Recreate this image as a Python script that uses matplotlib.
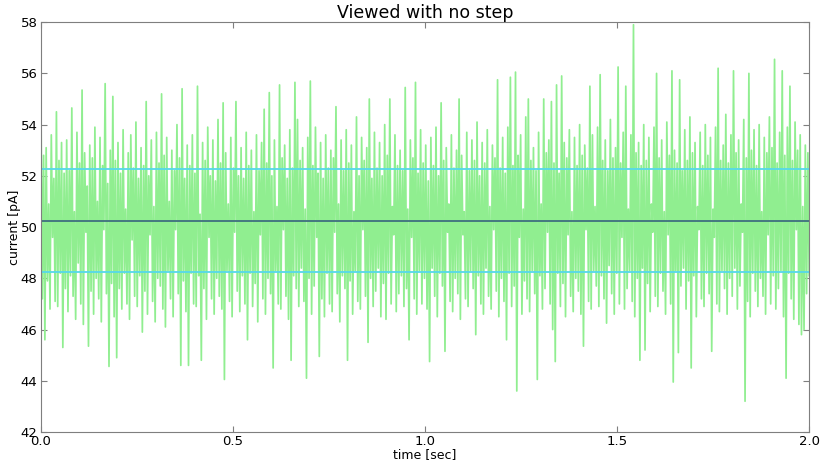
import numpy as np
import matplotlib
matplotlib.use("Agg")
import matplotlib.pyplot as plt

# current trace (pA), alternating swings of the noise
current = [
    54.4, 47.2, 52.8, 45.6, 53.1, 47.9, 50.9, 46.8, 53.6, 49.6, 51.9, 47.1, 54.5, 46.9, 52.6, 48.2, 53.3, 45.3, 52.1, 47.6,
    53.4, 46.7, 52.2, 48.1, 54.65, 47.3, 50.6, 46.4, 53.7, 48.6, 52.5, 47.0, 55.35, 46.2, 52.9, 49.8, 51.6, 45.35, 53.2, 47.5,
    52.7, 46.6, 53.9, 48.0, 51.0, 47.2, 53.5, 46.3, 52.4, 49.9, 55.6, 47.4, 51.7, 44.56, 53.0, 47.8, 55.1, 46.5, 52.6, 44.9,
    53.3, 47.6, 52.1, 46.8, 53.8, 48.2, 50.7, 47.0, 52.9, 46.4, 53.6, 49.5, 52.3, 47.3, 54.1, 46.9, 51.9, 48.1, 53.1, 45.9,
    52.4, 47.5, 54.9, 46.6, 52.0, 49.7, 53.4, 47.1, 50.8, 46.3, 53.7, 48.0, 52.5, 47.7, 55.2, 46.8, 52.8, 46.1, 53.5, 48.3,
    51.0, 47.2, 53.0, 46.5, 52.2, 49.9, 54.0, 47.4, 52.7, 44.6, 55.4, 47.9, 51.9, 46.7, 53.2, 44.6, 52.4, 48.2, 53.6, 47.0,
    52.1, 46.9, 55.5, 48.1, 50.5, 44.8, 53.3, 47.6, 52.6, 46.4, 53.9, 49.6, 52.0, 47.2, 53.4, 46.6, 51.8, 48.0, 54.2, 47.3,
    52.5, 46.8, 54.85, 44.05, 52.9, 48.3, 50.9, 47.1, 53.5, 46.5, 52.3, 49.8, 54.9, 47.5, 52.0, 46.7, 53.1, 48.1, 51.9, 47.0,
    53.7, 45.6, 52.4, 48.2, 53.0, 46.9, 50.6, 47.8, 53.6, 46.3, 52.2, 49.7, 53.3, 47.2, 54.6, 46.6, 52.5, 48.0, 55.25, 47.4,
    52.0, 44.5, 53.4, 48.3, 50.8, 47.0, 55.55, 46.8, 52.7, 49.9, 53.2, 47.3, 51.9, 46.4, 53.8, 44.8, 52.3, 48.1, 55.65, 47.6,
    54.2, 46.9, 52.6, 48.4, 53.1, 47.1, 50.7, 44.1, 53.5, 48.0, 55.7, 46.6, 52.4, 47.7, 53.9, 49.6, 52.1, 44.95, 53.3, 47.2,
    51.9, 46.5, 53.6, 48.2, 52.3, 47.0, 53.0, 46.7, 52.7, 49.8, 54.7, 47.4, 50.9, 46.3, 53.4, 48.1, 52.2, 47.6, 53.8, 44.8,
    52.5, 47.9, 53.2, 46.6, 50.6, 48.3, 54.3, 47.1, 52.0, 46.8, 53.5, 49.9, 52.6, 47.3, 53.1, 45.5, 55.0, 48.0, 51.9, 46.9,
    53.7, 47.5, 52.3, 48.4, 53.3, 46.5, 52.0, 47.8, 54.0, 46.4, 52.8, 48.2, 55.0, 47.0, 50.8, 49.7, 53.6, 46.7, 52.4, 47.4,
    53.0, 48.1, 52.2, 46.9, 55.45, 47.6, 50.7, 45.6, 53.4, 49.6, 52.7, 47.2, 55.65, 46.6, 52.1, 48.3, 53.8, 47.0, 52.5, 48.0,
    53.2, 46.8, 51.8, 44.75, 53.5, 48.4, 52.4, 47.3, 53.9, 46.5, 52.0, 48.2, 54.85, 47.7, 52.6, 45.15, 53.1, 49.8, 50.9, 47.1,
    53.6, 46.7, 52.3, 48.0, 53.0, 47.4, 55.0, 46.4, 52.8, 49.7, 50.6, 47.2, 53.7, 46.9, 52.2, 48.3, 53.4, 47.6, 52.6, 45.8,
    54.1, 48.1, 52.0, 47.0, 53.3, 46.6, 52.5, 48.4, 53.8, 47.3, 50.8, 46.8, 53.2, 49.9, 52.7, 47.5, 55.75, 46.5, 52.3, 48.0,
    53.5, 47.1, 52.1, 45.6, 53.9, 48.2, 55.85, 46.9, 52.4, 47.7, 56.05, 43.6, 52.8, 49.6, 53.6, 46.6, 50.7, 47.9, 54.3, 47.2,
    55.0, 46.7, 52.6, 48.3, 53.1, 47.4, 52.2, 44.05, 53.7, 48.1, 50.9, 46.8, 55.0, 47.6, 52.9, 49.8, 53.4, 47.0, 54.9, 46.0,
    52.5, 44.75, 55.55, 48.2, 52.1, 46.9, 55.9, 47.8, 53.3, 46.5, 52.7, 49.7, 53.8, 47.3, 50.6, 46.7, 53.5, 48.0, 52.4, 47.5,
    54.0, 46.6, 52.8, 45.35, 53.2, 49.9, 52.3, 47.1, 55.5, 46.8, 53.6, 48.3, 50.8, 47.7, 53.9, 46.9, 55.95, 48.1, 52.6, 47.2,
    53.4, 46.25, 52.2, 48.5, 54.2, 47.4, 52.7, 46.6, 53.1, 48.2, 56.25, 47.0, 52.5, 49.6, 53.7, 46.8, 55.5, 47.6, 50.7, 48.3,
    53.6, 47.1, 57.9, 46.5, 52.9, 48.0, 53.3, 44.8, 52.4, 48.4, 54.0, 45.2, 52.6, 47.8, 53.5, 46.7, 50.9, 49.8, 53.9, 47.3,
    56.0, 46.9, 52.7, 48.2, 53.4, 47.5, 50.6, 46.6, 54.1, 49.7, 52.8, 47.0, 56.1, 43.95, 53.0, 48.3, 52.5, 45.1, 55.75, 47.7,
    52.2, 48.4, 53.8, 46.8, 52.6, 47.9, 54.3, 44.5, 52.9, 48.1, 53.3, 46.5, 50.8, 49.9, 53.7, 47.2, 52.4, 46.9, 54.0, 48.2,
    52.8, 47.4, 53.5, 45.15, 50.7, 49.6, 53.9, 47.0, 56.2, 46.7, 52.6, 48.3, 53.2, 47.6, 54.4, 46.6, 52.5, 48.0, 53.6, 47.3,
    56.1, 48.4, 52.9, 46.8, 53.4, 47.7, 50.9, 49.8, 54.2, 43.2, 52.7, 47.1, 56.0, 46.5, 53.0, 48.2, 53.8, 47.5, 52.4, 46.9,
    54.0, 48.0, 50.6, 47.3, 53.5, 46.6, 52.9, 49.7, 54.3, 47.0, 53.1, 48.1, 56.55, 46.8, 52.5, 47.6, 53.7, 48.3, 56.1, 46.5,
    52.8, 44.1, 53.9, 48.2, 55.5, 47.2, 52.6, 46.4, 54.1, 49.9, 53.0, 46.2, 53.6, 45.8, 50.8, 46.0, 53.2, 47.4, 52.9, 48.1,
]
t_start, t_end = 0.0, 2.0

mean_level = 50.25   # dark line
band = 2.0           # cyan lines at mean +/- band

time = np.linspace(t_start, t_end, len(current))

fig = plt.figure(figsize=(8.24, 4.62), dpi=100)
ax = fig.add_axes([0.0498, 0.065, 0.9322, 0.887])

ax.plot(time, current, color="#90ee90", lw=1.25)
ax.axhline(mean_level, color="#3f6f7f", lw=1.3)
ax.axhline(mean_level + band, color="#55d8ea", lw=1.3)
ax.axhline(mean_level - band, color="#55d8ea", lw=1.3)

ax.set_xlim(0, 2.0)
ax.set_ylim(42, 58)
ax.set_xticks([0.0, 0.5, 1.0, 1.5, 2.0])
ax.set_yticks(np.arange(42, 59, 2))

for s in ax.spines.values():
    s.set_color("#7f7f7f")
ax.tick_params(direction="in", length=4, width=0.8, color="#7f7f7f",
               top=True, right=True, labelsize=9.5, pad=2.5)

ax.set_title("Viewed with no step", fontsize=12.5, pad=3)
ax.set_xlabel("time [sec]", fontsize=9, labelpad=0)
ax.set_ylabel("current [pA]", fontsize=9, labelpad=0)

fig.savefig("out.png", dpi=100)
